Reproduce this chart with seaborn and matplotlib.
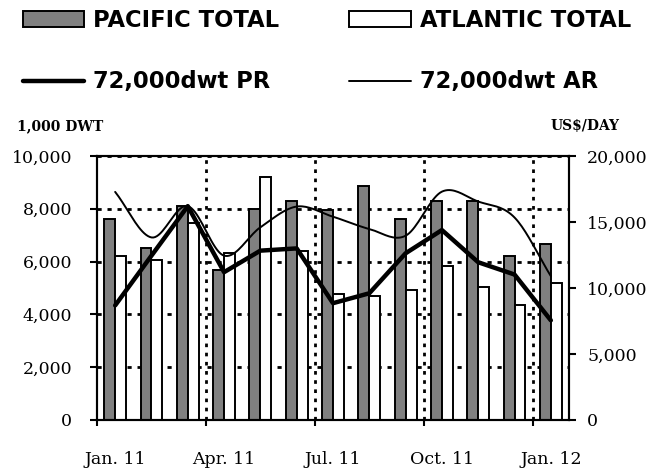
import numpy as np
import pandas as pd
import matplotlib
matplotlib.use("Agg")
import matplotlib.pyplot as plt
import seaborn as sns
from matplotlib.patches import Patch
from matplotlib.lines import Line2D

# ---- data ----
months = ["Jan. 11", "Feb. 11", "Mar. 11", "Apr. 11", "May 11", "Jun. 11", "Jul. 11",
          "Aug. 11", "Sep. 11", "Oct. 11", "Nov. 11", "Dec. 11", "Jan. 12"]
pacific_total = [7600, 6500, 8100, 5700, 8000, 8280, 7950, 8870, 7600, 8280, 8280, 6230, 6670]
atlantic_total = [6230, 6060, 7480, 6330, 9220, 6390, 4780, 4690, 4940, 5820, 5030, 4340, 5200]
pr_rate = [8680, 12450, 16200, 11200, 12830, 13000, 8850, 9600, 12630, 14390, 11950, 11020, 7550]
ar_rate = [17280, 13830, 16200, 12450, 14600, 16170, 15400, 14470, 13960, 17300, 16550, 15340, 10900]
x_labels = ["Jan. 11", "Apr. 11", "Jul. 11", "Oct. 11", "Jan. 12"]
left_ticks = [0, 2000, 4000, 6000, 8000, 10000]
right_ticks = [0, 5000, 10000, 15000, 20000]

sns.set_theme(style="white")
plt.rcParams["font.family"] = ["DejaVu Serif"]
plt.rcParams["text.color"] = "black"
plt.rcParams["axes.labelcolor"] = "black"
plt.rcParams["xtick.color"] = "black"
plt.rcParams["ytick.color"] = "black"

fig = plt.figure(figsize=(6.51, 4.70), dpi=100)
ax = fig.add_axes([97 / 651, 50 / 470, (569 - 97) / 651, (420 - 156) / 470])

df = pd.DataFrame({
    "month": months * 2,
    "value": pacific_total + atlantic_total,
    "series": ["PACIFIC TOTAL"] * len(months) + ["ATLANTIC TOTAL"] * len(months),
})
sns.barplot(data=df, x="month", y="value", hue="series", order=months,
            hue_order=["PACIFIC TOTAL", "ATLANTIC TOTAL"],
            palette={"PACIFIC TOTAL": "#808080", "ATLANTIC TOTAL": "white"},
            edgecolor="black", linewidth=1.4, width=0.6, legend=False, ax=ax, zorder=2)

ax.set_xlim(-0.5, len(months) - 0.5)
ax.set_ylim(0, 10000)
ax.set_yticks(left_ticks)
ax.set_yticklabels([f"{v:,}" for v in left_ticks])
ax.set_xlabel("")
ax.set_ylabel("")

# grid
for v in left_ticks[1:]:
    ax.axhline(v, color="black", lw=2.0, ls=(0, (1.5, 2.1)), zorder=0.5)
for xv in [2.5, 5.5, 8.5, 11.5]:
    ax.axvline(xv, color="black", lw=2.0, ls=(0, (1.3, 2.0)), zorder=0.5)

# x ticks: boundaries as major (no label), centers as minor (labels)
ax.set_xticks([-0.5, 2.5, 5.5, 8.5, 11.5])
ax.set_xticklabels([])
ax.set_xticks([0, 3, 6, 9, 12], minor=True)
ax.set_xticklabels(x_labels, minor=True)
ax.tick_params(axis="x", which="major", direction="out", length=4, width=1.5,
               bottom=True, top=False, color="black")
ax.tick_params(axis="x", which="minor", length=0, pad=22, labelsize=12.5, labelcolor="black")
ax.tick_params(axis="y", which="major", direction="out", length=5, width=1.5,
               left=True, right=False, pad=13, labelsize=12.5, color="black", labelcolor="black")

for s in ax.spines.values():
    s.set_color("black")
    s.set_linewidth(1.5)
    s.set_visible(True)

# secondary axis: rates
ax2 = ax.twinx()
idx = np.arange(len(months))
sns.lineplot(x=idx, y=pr_rate, ax=ax2, color="black", lw=3.2, zorder=4)


def catmull_rom(xs, ys, n=20):
    xs = np.asarray(xs, float)
    ys = np.asarray(ys, float)
    px = np.concatenate([[2 * xs[0] - xs[1]], xs, [2 * xs[-1] - xs[-2]]])
    py = np.concatenate([[2 * ys[0] - ys[1]], ys, [2 * ys[-1] - ys[-2]]])
    outx, outy = [], []
    for i in range(1, len(px) - 2):
        t = np.linspace(0, 1, n, endpoint=False)
        t2, t3 = t * t, t * t * t
        for arr, out in ((px, outx), (py, outy)):
            p0, p1, p2, p3 = arr[i - 1], arr[i], arr[i + 1], arr[i + 2]
            out.extend(0.5 * ((2 * p1) + (-p0 + p2) * t + (2 * p0 - 5 * p1 + 4 * p2 - p3) * t2
                              + (-p0 + 3 * p1 - 3 * p2 + p3) * t3))
    outx.append(xs[-1])
    outy.append(ys[-1])
    return np.array(outx), np.array(outy)


sx, sy = catmull_rom(idx, ar_rate)
ax2.plot(sx, sy, color="black", lw=1.4, zorder=3)

ax2.set_ylim(0, 20000)
ax2.set_yticks(right_ticks)
ax2.set_yticklabels([f"{v:,}" for v in right_ticks])
ax2.set_ylabel("")
ax2.tick_params(axis="y", direction="out", length=5, width=1.5, right=True, left=False,
                pad=8, labelsize=12.5, color="black", labelcolor="black")
ax2.grid(False)
ax.grid(False)
for s in ax2.spines.values():
    s.set_color("black")
    s.set_linewidth(1.5)

# axis titles
fig.text(17 / 651, 1 - 126 / 470, "1,000 DWT", fontsize=10, fontweight="bold",
         ha="left", va="center", family="DejaVu Serif", color="black")
fig.text(620 / 651, 1 - 126 / 470, "US$/DAY", fontsize=10, fontweight="bold",
         ha="right", va="center", family="DejaVu Serif", color="black")

# legend
handles = [
    Patch(facecolor="#808080", edgecolor="black", linewidth=1.4),
    Line2D([0], [0], color="black", lw=3.2),
    Patch(facecolor="white", edgecolor="black", linewidth=1.4),
    Line2D([0], [0], color="black", lw=1.4),
]
labels = ["PACIFIC TOTAL", "72,000dwt PR", "ATLANTIC TOTAL", "72,000dwt AR"]
leg = fig.legend(handles, labels, loc="upper left", bbox_to_anchor=(23 / 651, 1 - 9 / 470),
                 ncol=2, frameon=False, borderpad=0, borderaxespad=0,
                 handlelength=2.7, handleheight=0.66, handletextpad=0.4,
                 columnspacing=3.1, labelspacing=1.7,
                 prop={"family": "DejaVu Sans", "weight": "bold", "size": 16.3})
for t in leg.get_texts():
    t.set_color("black")

fig.savefig("out.png", dpi=100)
